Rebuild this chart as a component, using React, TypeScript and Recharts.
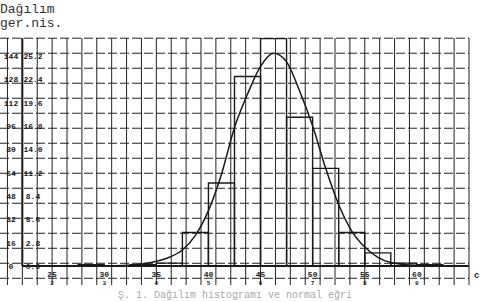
import React from "react";
import {
  ComposedChart,
  Bar,
  Line,
  XAxis,
  YAxis,
  CartesianGrid,
  ReferenceLine,
} from "recharts";

// histogram bins, half a class wide, from -1 to 8
const binLabels = [
  "-1.0", "-0.5", "0.0", "0.5", "1.0", "1.5", "2.0", "2.5", "3.0",
  "3.5", "4.0", "4.5", "5.0", "5.5", "6.0", "6.5", "7.0", "7.5",
];
const binCounts = [0, 0, 0, 1, 0, 1, 2, 23, 57, 130, 156, 102, 67, 23, 9, 2, 1, 0];

// fitted curve
const curveK = [0.8, 1.5, 1.9, 2.25, 2.5, 2.75, 3.0, 3.25, 3.5, 3.75, 4.0, 4.25, 4.5, 4.75, 5.0, 5.25, 5.5, 5.75, 6.0, 6.25, 6.5, 7.0, 7.7];
const curveN = [0, 0.5, 2.4, 6, 11, 21, 38, 63, 95, 118, 137, 146, 140, 120, 96, 67, 42, 24, 13, 6, 2.5, 0.5, 0];

const countTicks = [0, 16, 32, 48, 64, 80, 96, 112, 128, 144];
const percentLabels = ["0.0", "2.8", "5.6", "8.4", "11.2", "14.0", "16.8", "19.6", "22.4", "25.2"];

const classTicks = [0, 1, 2, 3, 4, 5, 6, 7];
const classLabels = ["25", "30", "35", "40", "45", "50", "55", "60"];
const subLabels = ["2", "3", "4", "5", "6", "7", "8", "9"];

const bins = binLabels.map((b, i) => ({ bin: b, n: binCounts[i] }));
const curve = curveK.map((k, i) => ({ k, v: curveN[i] }));

const X_MIN = -1;
const X_MAX = 8;
const Y_MIN = -13;
const Y_MAX = 156.4;
const AXIS_K = -4 / 7;

// graph paper lines
const gridK: number[] = [];
for (let v = -6 / 7; v <= X_MAX + 0.001; v += 2 / 7) gridK.push(v);
const gridN: number[] = [];
for (let v = 1.9 - 10.29; v <= Y_MAX + 0.5; v += 10.29) gridN.push(v);

const ink = "#1a1a1a";
const mono = "'Liberation Mono', 'DejaVu Sans Mono', monospace";

const YTick = (props: any) => {
  const { y, index, payload } = props;
  return (
    <g fontFamily={mono} fontSize={8} fontWeight="bold" fill={ink}>
      <text x={11} y={y + 3} textAnchor="middle">{payload.value}</text>
      <text x={33} y={y + 3} textAnchor="middle">{percentLabels[index]}</text>
    </g>
  );
};

const XTick = (props: any) => {
  const { x, index } = props;
  return (
    <g fontFamily={mono} fontWeight="bold" fill={ink}>
      <text x={x} y={277} fontSize={8} textAnchor="middle">{classLabels[index]}</text>
      <text x={x} y={285} fontSize={6} textAnchor="middle">{subLabels[index]}</text>
    </g>
  );
};

export default function App() {
  return (
    <div style={{ position: "relative", width: 481, height: 302, background: "#fff" }}>
      <style>{`body{margin:0}`}</style>
      <div
        style={{
          position: "absolute",
          left: 0,
          top: 3,
          fontFamily: mono,
          fontSize: 13,
          lineHeight: "14px",
          color: "#333",
        }}
      >
        <div>Dağılım</div>
        <div>ger.nis.</div>
      </div>
      <ComposedChart
        width={481}
        height={302}
        data={bins}
        margin={{ top: 38, right: 12, left: -1, bottom: 0 }}
        barCategoryGap={0}
        barGap={0}
      >
        <CartesianGrid
          horizontal={false}
          stroke="#222"
          strokeWidth={1}
          verticalCoordinatesGenerator={({ xAxis, offset }: any) =>
            gridK.map((v) =>
              xAxis && typeof xAxis.scale === "function"
                ? xAxis.scale(v)
                : offset.left + ((v - X_MIN) / (X_MAX - X_MIN)) * offset.width
            )
          }
        />
        <CartesianGrid
          vertical={false}
          stroke="#222"
          strokeWidth={1}
          strokeDasharray="9 3"
          horizontalCoordinatesGenerator={({ yAxis, offset }: any) =>
            gridN.map((v) =>
              yAxis && typeof yAxis.scale === "function"
                ? yAxis.scale(v)
                : offset.top + ((Y_MAX - v) / (Y_MAX - Y_MIN)) * offset.height
            )
          }
        />
        <XAxis xAxisId="bins" dataKey="bin" type="category" hide />
        <XAxis
          dataKey="k"
          type="number"
          domain={[X_MIN, X_MAX]}
          ticks={classTicks}
          allowDataOverflow
          height={17}
          axisLine={false}
          tickLine={false}
          tick={<XTick />}
        />
        <YAxis
          type="number"
          domain={[Y_MIN, Y_MAX]}
          ticks={countTicks}
          interval={0}
          allowDataOverflow
          width={1}
          axisLine={false}
          tickLine={false}
          tick={<YTick />}
        />
        <Bar
          xAxisId="bins"
          dataKey="n"
          fill="none"
          stroke={ink}
          strokeWidth={1.4}
          isAnimationActive={false}
        />
        <Line
          data={curve}
          dataKey="v"
          type="monotone"
          stroke={ink}
          strokeWidth={1.5}
          dot={false}
          isAnimationActive={false}
        />
        <ReferenceLine
          segment={[{ x: AXIS_K, y: 0 }, { x: X_MAX, y: 0 }]}
          stroke={ink}
          strokeWidth={2}
          ifOverflow="visible"
        />
        <ReferenceLine
          segment={[{ x: AXIS_K, y: 0 }, { x: AXIS_K, y: Y_MAX }]}
          stroke={ink}
          strokeWidth={2}
          ifOverflow="visible"
        />
      </ComposedChart>
      <div
        style={{
          position: "absolute",
          left: 474,
          top: 271,
          fontFamily: mono,
          fontSize: 9,
          fontWeight: "bold",
          color: ink,
        }}
      >
        c
      </div>
      <div
        style={{
          position: "absolute",
          left: 118,
          top: 290,
          fontFamily: mono,
          fontSize: 10,
          color: "#aaa",
          whiteSpace: "nowrap",
        }}
      >
        Ş. 1. Dağılım histogramı ve normal eğri
      </div>
    </div>
  );
}
